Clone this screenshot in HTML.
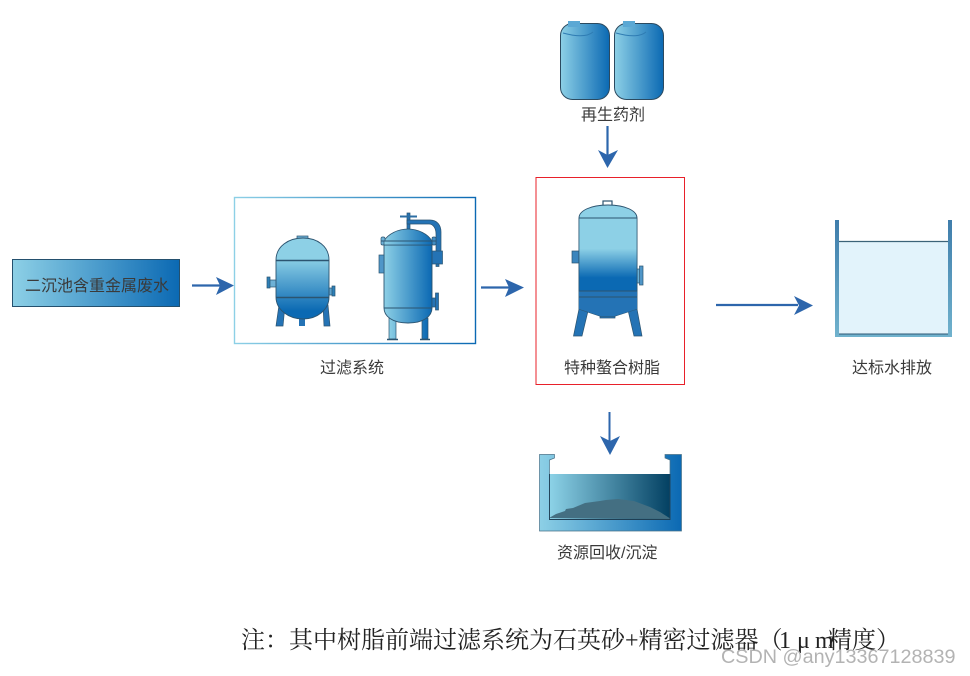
<!DOCTYPE html>
<html><head><meta charset="utf-8">
<style>
html,body{margin:0;padding:0;background:#fff}
svg{display:block}
text{font-family:"Liberation Sans","Noto Sans CJK SC",sans-serif;font-size:16px;fill:#3a3a3a}
.s,.s tspan{font-family:"Liberation Serif","Noto Serif CJK SC",serif;font-size:24px;fill:#222}
</style></head>
<body>
<svg width="970" height="676" viewBox="0 0 970 676" xmlns="http://www.w3.org/2000/svg">
<defs>
<linearGradient id="h" x1="0" x2="1" y1="0" y2="0"><stop offset="0" stop-color="#8dd0e6"/><stop offset="1" stop-color="#0b69b3"/></linearGradient>
<linearGradient id="v" x1="0" x2="0" y1="0" y2="1"><stop offset="0" stop-color="#8dd0e6"/><stop offset=".25" stop-color="#8dd0e6"/><stop offset=".9" stop-color="#0b69b3"/><stop offset="1" stop-color="#0b69b3"/></linearGradient>
<linearGradient id="v3" x1="0" x2="0" y1="0" y2="1"><stop offset="0" stop-color="#8dd0e6"/><stop offset=".42" stop-color="#8dd0e6"/><stop offset=".82" stop-color="#0b69b3"/><stop offset="1" stop-color="#0b69b3"/></linearGradient>
<linearGradient id="w" x1="0" x2="1" y1="0" y2="0"><stop offset="0" stop-color="#8dd3e8"/><stop offset="1" stop-color="#023f61"/></linearGradient>
<linearGradient id="wall" x1="0" x2="0" y1="0" y2="1"><stop offset="0" stop-color="#3f7dab"/><stop offset="1" stop-color="#70b2cd"/></linearGradient>
</defs>

<!-- source -->
<rect x="12.5" y="259.5" width="167" height="47" fill="url(#h)" stroke="#24506e" stroke-width="1"/>
<text x="25" y="291">二沉池含重金属废水</text>
<path d="M192 285.5H220" stroke="#2d66ac" stroke-width="2.2"/>
<path d="M216 277L234 285.500L216 295L220 285.500Z" fill="#2d66ac"/>

<!-- filter box -->
<rect x="234.500" y="197.500" width="241" height="146" fill="#fff" stroke="url(#h)" stroke-width="1.400"/>

<!-- tank 1 -->
<g stroke="#2c5470" stroke-width=".7">
<path d="M276 326L279 305H285L283 326Z" fill="#2473b5"/>
<path d="M323 305H328L330 326H324Z" fill="#2473b5"/>
<rect x="299" y="316" width="6" height="10" fill="#2473b5" stroke="none"/>
<rect x="268" y="280" width="9" height="7" fill="#6eb1d6"/>
<rect x="267" y="277" width="3" height="11" fill="#2d80b8"/>
<rect x="329" y="288" width="4" height="7" fill="#5ea4cf"/>
<rect x="332" y="286" width="3" height="10" fill="#2d80b8"/>
<rect x="297" y="236" width="11" height="4" fill="#6eb1d6"/>
<path d="M276 260C276 246 289 238 303 238C317 238 329 246 329 260V297C329 310 317 319 303 319C289 319 276 310 276 297Z" fill="url(#v)" stroke-width=".9"/>
<path d="M276 260.500H329M276 297.500H329" stroke-width="1.600" fill="none"/>
</g>

<!-- tank 2 -->
<g stroke="#2c5470" stroke-width=".7">
<path d="M389 318H396V339H389ZM422 318H428V339H422Z" fill="url(#h)"/>
<path d="M387 339.500H398M420 339.500H430" stroke-width="1.600"/>
<path d="M407 213H410V229H407Z" fill="#2473b5"/>
<path d="M400 216.500H417" stroke="#2c6ea3" stroke-width="2"/>
<path d="M407 220H430C437 220 441 225 441 232V252H436V234C436 228 433 224 429 224H407Z" fill="#2473b5"/>
<rect x="432" y="251" width="10.500" height="13" fill="#2473b5"/>
<rect x="436" y="264" width="3" height="2.500" fill="#2473b5"/>
<path d="M384 241C388 234 398 229 408 229C418 229 428 234 432 241Z" fill="url(#h)"/>
<rect x="381" y="237" width="4" height="8" rx="1.500" fill="#6eb1d6"/>
<rect x="432" y="237" width="4" height="8" rx="1.500" fill="#3f8cc4"/>
<path d="M384 245H432V308C432 316 424 323 408 323C392 323 384 316 384 308Z" fill="url(#h)" stroke-width=".9"/>
<path d="M384 241H432V245H384Z" fill="url(#h)"/>
<path d="M381 241H436" stroke-width="1.100"/>
<path d="M384 308H432" stroke-width="1"/>
<rect x="379" y="255" width="5" height="18" fill="#4f96c8"/>
<rect x="432" y="298" width="4" height="9" fill="#2473b5"/>
<rect x="435.500" y="293" width="3" height="17" fill="#2473b5"/>
</g>

<text x="320" y="373">过滤系统</text>
<path d="M481 287.500H510" stroke="#2d66ac" stroke-width="2.200"/>
<path d="M505 279L524 287.500L505 297L509 287.500Z" fill="#2d66ac"/>

<!-- chemical drums -->
<g stroke="#2b4a60" stroke-width="1">
<rect x="560.500" y="23.500" width="49" height="76" rx="12" fill="url(#h)"/>
<rect x="614.500" y="23.500" width="49" height="76" rx="12" fill="url(#h)"/>
<rect x="568" y="21" width="12" height="6" fill="#5ba8d4" stroke="none"/>
<rect x="623" y="21" width="12" height="6" fill="#5ba8d4" stroke="none"/>
<path d="M563 33Q585 39 593 32M616 33Q638 39 646 32" fill="none" stroke="#2f7cb3"/>
</g>
<text x="581" y="120">再生药剂</text>
<path d="M607.500 126V158" stroke="#2d66ac" stroke-width="2.200"/>
<path d="M598 150L607.500 168L618 150L607.500 155Z" fill="#2d66ac"/>

<!-- resin box -->
<rect x="536" y="177.500" width="148.500" height="207" fill="#fff" stroke="#e8202a" stroke-width="1"/>
<g stroke="#2c5470" stroke-width=".7">
<path d="M579 309L588 311L582 336H573.500Z" fill="#2473b5"/>
<path d="M628 310L637 309L642 336H634Z" fill="#2473b5"/>
<rect x="603" y="201" width="9" height="5" fill="#fff" stroke-width="1.200"/>
<rect x="572" y="251" width="7" height="12" fill="#3a85bd"/>
<rect x="637" y="269" width="3" height="14" fill="#6ab0d6"/>
<rect x="639.500" y="266" width="3.500" height="19" fill="#4f96c8"/>
<path d="M600 316H615V318H600Z" fill="#2473b5"/>
<path d="M579 218C579 211 590 205 608 205C626 205 637 211 637 218V309L615 316H600L579 309Z" fill="#8dd0e6" stroke-width=".9"/>
<rect x="579" y="218" width="58" height="73" fill="url(#v3)" stroke-width=".7"/>
<path d="M579 291H637V309L615 316H600L579 309Z" fill="#2473b5" stroke="none"/>
<path d="M579 218H637M579 291H637M579 297H637" stroke-width="1"/>
</g>
<text x="564" y="373">特种螯合树脂</text>

<path d="M716 305H798" stroke="#2d66ac" stroke-width="2.200"/>
<path d="M794 296L813 305.500L794 315L799 305.500Z" fill="#2d66ac"/>

<!-- discharge tank -->
<rect x="837" y="241" width="113" height="94" fill="#e2f3fb"/>
<path d="M838 241.500H949" stroke="#3c6378" stroke-width="1.200"/>
<path d="M835 220H839V334H948V220H952V337H835Z" fill="url(#wall)"/>
<path d="M839 334H948" stroke="#2d5874" stroke-width="1"/>
<text x="852" y="373">达标水排放</text>

<!-- sludge -->
<path d="M609.500 412V442" stroke="#2d66ac" stroke-width="2"/>
<path d="M600 436L610 455L620 436L610 441Z" fill="#2d66ac"/>
<rect x="549" y="474" width="122" height="45" fill="url(#w)"/>
<path d="M549 518L556 514L565 511L566 509L573 508L585 503L600 501L606 500L618 499L634 501L650 507L660 512L671 519Z" fill="#446f82"/>
<path d="M539.500 454.500H554.500V458L549.500 460V519.500H670V460L665 458V454.500H681.500V531H539.500Z" fill="url(#h)" stroke="#4a7288" stroke-width=".7"/>
<path d="M549.500 474V519.500H670V474" fill="none" stroke="#1e3f55" stroke-width=".9"/>
<text x="557" y="558">资源回收/沉淀</text>

<!-- note -->
<text class="s" x="241" y="648">注：其中树脂前端过滤系统为石英砂+精密过滤器（<tspan x="779">1</tspan><tspan x="797">μ</tspan><tspan x="815">m</tspan><tspan x="828">精度）</tspan></text>
<text x="721" y="663" style="font-size:19.800px;fill:#b3b3b3;font-family:'Liberation Sans',sans-serif">CSDN @any13367128839</text>
</svg>
</body></html>
